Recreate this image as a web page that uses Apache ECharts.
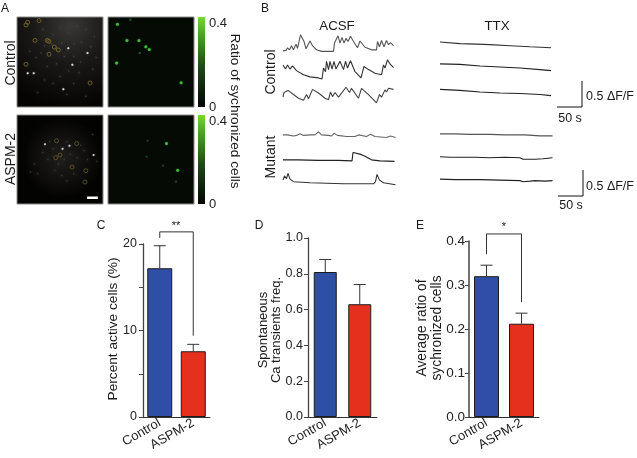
<!DOCTYPE html>
<html><head><meta charset="utf-8">
<style>html,body{margin:0;padding:0;background:#fff}#c{width:637px;height:458px}</style>
<script src="https://cdn.jsdelivr.net/npm/echarts@6/dist/echarts.min.js"></script>
</head><body><div id="c"></div>
<script>
// ---------- data ----------
const groups = ['Control', 'ASPM-2'];
const activeCells = [17.2, 7.6];
const activeCellsTop = [19.8, 8.4];
const transientFreq = [0.81, 0.63];
const transientFreqTop = [0.88, 0.74];
const syncRatio = [0.32, 0.212];
const syncRatioTop = [0.345, 0.236];

// [time s, dF/F]
const acsfControl1 = [[0,1.06],[6,1.07],[9,1.12],[13,1.08],[17,1.16],[21,1.08],[26,1.19],[29,1.11],[35,1.37],[42,1.24],[46,1.10],[54,1.25],[59,1.16],[67,1.08],[77,1.05],[101,1.05],[103,1.21],[110,1.35],[114,1.21],[118,1.32],[122,1.21],[126,1.30],[130,1.24],[135,1.34],[141,1.24],[149,1.12],[154,1.25],[164,1.13],[177,1.08],[187,1.08],[189,1.24],[193,1.14],[197,1.26],[202,1.14],[207,1.26],[211,1.18],[215,1.22],[221,1.16]];
const acsfControl2 = [[0,0.79],[5,0.71],[9,0.79],[14,0.71],[19,0.77],[27,0.68],[41,0.60],[54,0.56],[71,0.54],[78,0.52],[81,0.73],[85,0.66],[87,0.86],[91,0.70],[94,0.86],[98,0.71],[102,0.86],[106,0.71],[114,0.86],[121,0.70],[125,0.86],[129,0.73],[135,0.87],[144,0.66],[156,0.54],[162,0.76],[171,0.70],[184,0.63],[197,0.60],[201,0.79],[204,0.73],[209,0.89],[213,0.82],[221,0.74]];
const acsfControl3 = [[0,0.17],[2,0.26],[10,0.30],[21,0.22],[31,0.15],[41,0.11],[47,0.22],[51,0.14],[59,0.32],[71,0.25],[84,0.15],[91,0.12],[95,0.27],[99,0.18],[104,0.26],[111,0.17],[126,0.36],[133,0.26],[137,0.34],[151,0.15],[157,0.34],[171,0.22],[187,0.06],[193,0.22],[197,0.17],[204,0.31],[207,0.27],[211,0.34],[215,0.31],[221,0.32]];
const ttxControl1 = [[0,1.23],[40,1.20],[73,1.19],[100,1.18],[140,1.16],[180,1.14],[222,1.12]];
const ttxControl2 = [[0,0.81],[40,0.80],[80,0.77],[120,0.75],[160,0.73],[200,0.70],[222,0.68]];
const ttxControl3 = [[0,0.32],[40,0.30],[80,0.27],[120,0.25],[160,0.24],[200,0.22],[222,0.20]];
const acsfMutant1 = [[0,1.31],[4,1.34],[9,1.31],[14,1.30],[21,1.29],[27,1.30],[34,1.33],[41,1.30],[54,1.31],[64,1.31],[71,1.37],[77,1.31],[91,1.30],[97,1.29],[102,1.34],[109,1.30],[127,1.28],[144,1.28],[151,1.31],[155,1.28],[167,1.28],[175,1.32],[184,1.28],[207,1.26],[215,1.29],[225,1.26]];
const acsfMutant2 = [[0,0.83],[30,0.83],[70,0.82],[110,0.82],[138,0.81],[140,0.97],[154,0.94],[164,0.90],[177,0.83],[194,0.81],[223,0.80]];
const acsfMutant3 = [[0,0.44],[3,0.52],[7,0.47],[10,0.57],[14,0.46],[21,0.41],[54,0.39],[121,0.37],[181,0.37],[185,0.41],[188,0.55],[193,0.44],[201,0.39],[225,0.35]];
const ttxMutant1 = [[0,1.33],[30,1.33],[60,1.32],[100,1.32],[130,1.31],[170,1.31],[200,1.29],[225,1.29]];
const ttxMutant2 = [[0,0.89],[20,0.88],[40,0.88],[70,0.88],[100,0.87],[130,0.88],[160,0.87],[166,0.84],[190,0.84],[206,0.85],[225,0.87]];
const ttxMutant3 = [[0,0.46],[30,0.45],[80,0.45],[120,0.44],[160,0.43],[166,0.41],[180,0.42],[190,0.43],[210,0.42],[225,0.43]];
const scaleBar = [[0,0],[50,0],[50,0.5]];

// field-of-view marks, [x %, y %]
const controlRings = [[12.4,5.9],[10.5,8.9],[25.6,4],[21,26],[35.3,26],[37,27],[43.4,33.3],[48,36.6],[37.2,41.4],[10.5,52.5],[85,73.3]];
const controlBright = [[19.4,62.5],[53.9,80.3],[12.4,62.5],[64.4,53],[82,40],[59.7,34.8]];
const controlSpeckle = [[30,14],[42,20],[50,12],[60,18],[70,10],[80,14],[90,22],[66,30],[75,28],[86,33],[52,29],[40,30],[32,32],[28,40],[55,44],[66,44],[74,50],[46,52],[35,55],[22,45],[15,38],[60,60],[72,62],[88,58],[50,66],[32,70],[42,74],[66,74],[58,86],[80,88],[24,84],[92,45]];
const mutantRings = [[46,29],[69.4,32],[50,45],[45,48],[64,58.5],[80,62.6],[79,75.3]];
const mutantBright = [[53,38],[89,45],[61,34.5],[32.5,33]];
const mutantSpeckle = [[38,30],[42,38],[30,42],[58,30],[78,40],[74,34],[62,44],[55,50],[48,55],[70,48],[36,50],[20,55],[16,64],[24,66],[88,22],[93,52],[66,66],[52,68],[44,62],[58,74],[82,50]];
const scaleLine = [[81.5,93],[94,93]];
const controlGreen = [[11,8],[22,26],[36,26],[44,33],[48,36],[10,51],[85,73]];
const controlGreenDim = [[26,3],[37,40]];
const mutantGreen = [[68,32],[81,62]];
const mutantGreenDim = [[46,29],[64,57],[79,75],[45,47]];
const colorbarMax = [0.4];

// ---------- helpers ----------
const FONT = 'Liberation Sans';
const INK = '#222';
const grids = [], xAxes = [], yAxes = [], series = [];
function addGrid(g, x, y) {
  grids.push(Object.assign({containLabel:false}, g));
  const i = grids.length - 1;
  xAxes.push(Object.assign({gridIndex:i}, x));
  yAxes.push(Object.assign({gridIndex:i}, y));
  return i;
}
const hiddenVal = (min, max, extra) => Object.assign({type:'value', show:false, min, max, splitLine:{show:false}}, extra||{});

function imagePanel(top, left, h, bg, content) {
  const i = addGrid({left, top, width:86, height:h, show:true, backgroundColor:bg, borderColor:'#8a8a8a', borderWidth:1},
    hiddenVal(0,100), hiddenVal(0,100,{inverse:true}));
  content.forEach(c => {
    series.push(Object.assign({type:c.line?'line':'scatter', xAxisIndex:i, yAxisIndex:i, data:c.data, silent:true, animation:false,
      symbol: c.line?'none':'circle', symbolSize:c.size,
      itemStyle: c.ring ? {color:'transparent', borderColor:c.color, borderWidth:1} : {color:c.color, shadowBlur:c.blur||0, shadowColor:c.color},
      lineStyle: c.line ? {color:c.color, width:c.width} : undefined}));
  });
}
function colorbar(top, h) {
  const i = addGrid({left:198, top, width:7, height:h},
    {type:'category', show:false, data:['r'], boundaryGap:true},
    {type:'value', position:'right', min:0, max:0.4, interval:0.4, splitLine:{show:false}, axisLine:{show:false}, axisTick:{show:false},
     axisLabel:{fontFamily:FONT, fontSize:13, color:INK, margin:4, padding:[0,0,6,0], verticalAlignMaxLabel:'top', verticalAlignMinLabel:'middle',
       formatter:v=>v===0?'0':String(v)}});
  series.push({type:'bar', xAxisIndex:i, yAxisIndex:i, data:colorbarMax, barWidth:'100%', silent:true, animation:false,
    itemStyle:{color:new echarts.graphic.LinearGradient(0,0,0,1,[{offset:0,color:'#79d62f'},{offset:0.2,color:'#4fa028'},{offset:0.55,color:'#1f4a18'},{offset:1,color:'#030503'}])}});
}
function traceGroup(left, top, traces, colors) {
  const i = addGrid({left, top, width:113, height:78}, hiddenVal(0,226), hiddenVal(0,1.5));
  traces.forEach((t,k) => series.push({type:'line', xAxisIndex:i, yAxisIndex:i, data:t, showSymbol:false, animation:false, silent:true, clip:false,
    lineStyle:{color:colors[k], width:1.1}}));
}
function scale(left, top) {
  const i = addGrid({left, top, width:25, height:26}, hiddenVal(0,50), hiddenVal(0,0.5));
  series.push({type:'line', xAxisIndex:i, yAxisIndex:i, data:scaleBar, showSymbol:false, animation:false, silent:true, clip:false, lineStyle:{color:'#111', width:1}});
}
function barPanel(opt) {
  const i = addGrid({left:opt.left, top:opt.top, width:opt.width, height:opt.height},
    {type:'category', data:groups, axisTick:{show:false}, axisLine:{lineStyle:{color:'#333', width:1}},
     axisLabel:{fontFamily:FONT, fontSize:13, color:INK, rotate:30, margin:5, interval:0}},
    {type:'value', min:0, max:opt.max, interval:opt.interval, splitLine:{show:false},
     axisLine:{show:true, lineStyle:{color:'#444', width:opt.axisW||1.3}}, axisTick:{show:true, length:4, lineStyle:{color:'#444'}},
     axisLabel:{fontFamily:FONT, fontSize:opt.fs, color:INK, margin:opt.margin, formatter:opt.fmt}});
  series.push({type:'bar', xAxisIndex:i, yAxisIndex:i, barWidth:opt.barW, animation:false, silent:true,
    data:opt.values.map((v,k)=>({value:v, itemStyle:{color:k?'#e5301e':'#2f4fa6', borderColor:'#1c1c1c', borderWidth:1}}))});
  series.push({type:'custom', xAxisIndex:i, yAxisIndex:i, animation:false, silent:true, z:1,
    data:opt.values.map((v,k)=>[k,v,opt.tops[k]]),
    renderItem:(p,api)=>{
      const a=api.coord([api.value(0),api.value(1)]), b=api.coord([api.value(0),api.value(2)]);
      const st={stroke:'#333',lineWidth:1,fill:null};
      return {type:'group',children:[
        {type:'line',shape:{x1:a[0],y1:a[1],x2:b[0],y2:b[1]},style:st},
        {type:'line',shape:{x1:b[0]-6,y1:b[1],x2:b[0]+6,y2:b[1]},style:st}]};
    }});
  if (opt.bracket) {
    const br=opt.bracket;
    series.push({type:'custom', xAxisIndex:i, yAxisIndex:i, animation:false, silent:true, clip:false,
      data:[[0,br[0],br[1],br[2]]],
      renderItem:(p,api)=>{
        const A=api.coord([0,api.value(1)]), B=api.coord([0,api.value(2)]), C=api.coord([1,api.value(2)]), D=api.coord([1,api.value(3)]);
        return {type:'polyline',shape:{points:[A,B,C,D]},style:{stroke:'#333',lineWidth:1,fill:null}};
      }});
  }
}

// ---------- panel A ----------
const hazeA = {type:'radial',x:0.62,y:0.1,r:0.95,colorStops:[{offset:0,color:'#383735'},{offset:0.45,color:'#1b1917'},{offset:1,color:'#050403'}]};
const hazeB = {type:'radial',x:0.52,y:0.48,r:0.46,colorStops:[{offset:0,color:'#201e1c'},{offset:0.6,color:'#100f0e'},{offset:1,color:'#030302'}]};
imagePanel(17,17,90,hazeA,[
  {data:controlSpeckle,size:1.5,color:'#45423f',blur:2},
  {data:controlRings,size:4,color:'#7d722a',ring:true},
  {data:controlBright,size:2,color:'#e8e8e8',blur:1}]);
imagePanel(17,108,90,'#050a04',[
  {data:controlGreenDim,size:2.5,color:'#1f6a20'},
  {data:controlGreen,size:3,color:'#3fc43a',blur:1}]);
imagePanel(115,17,89,hazeB,[
  {data:mutantSpeckle,size:1.5,color:'#403d3a',blur:2},
  {data:mutantRings,size:4,color:'#645c24',ring:true},
  {data:mutantBright,size:2,color:'#d5d5d5',blur:1},
  {data:scaleLine,line:true,color:'#ffffff',width:2.5}]);
imagePanel(115,108,89,'#050a04',[
  {data:mutantGreenDim,size:2.5,color:'#1c4a1c'},
  {data:mutantGreen,size:3,color:'#3fc43a',blur:1}]);
colorbar(17,90);
colorbar(115,89);

// ---------- panel B ----------
traceGroup(283,28,[acsfControl1,acsfControl2,acsfControl3],['#555','#333','#444']);
traceGroup(440,28,[ttxControl1,ttxControl2,ttxControl3],['#333','#222','#222']);
traceGroup(283,125,[acsfMutant1,acsfMutant2,acsfMutant3],['#666','#222','#333']);
traceGroup(440,125,[ttxMutant1,ttxMutant2,ttxMutant3],['#555','#222','#222']);
scale(557,81);
scale(558,170);

// ---------- panels C, D, E ----------
barPanel({left:143,top:244,width:67,height:173,max:20,interval:5,fs:12.5,margin:6,barW:25,values:activeCells,tops:activeCellsTop,
  fmt:v=>v%10===0?String(v):'',bracket:[20.7,21.4,9.4]});
barPanel({left:308,top:238,width:69,height:179,max:1,interval:0.2,fs:12.5,margin:5,barW:23,values:transientFreq,tops:transientFreqTop,
  fmt:v=>v.toFixed(1)});
barPanel({left:469,top:241,width:70,height:176,max:0.4,interval:0.1,fs:13.5,margin:4,barW:25,axisW:1.5,values:syncRatio,tops:syncRatioTop,
  fmt:v=>v.toFixed(1),bracket:[0.37,0.416,0.261]});

// ---------- text ----------
const t = (text,x,y,size,rot) => ({type:'text',x,y,rotation:rot||0,silent:true,
  style:{text,fontFamily:FONT,fontSize:size,fill:'#1a1a1a',textAlign:'center',textVerticalAlign:'middle'}});
const up = Math.PI/2, down = -Math.PI/2;
const labels = [
  t('A',5,9,12), t('B',265,9,12), t('C',101,226,12), t('D',259,226,12), t('E',420,226,12),
  t('Control',11,63,14,up), t('ASPM-2',11,159,14,up),
  t('Ratio of sychronized cells',235,111,13.7,down),
  t('ACSF',337,26,13.3), t('TTX',497,26,13.3),
  t('Control',271,72,14,up), t('Mutant',271,157,14,up),
  t('0.5 ΔF/F',610,97,12.5), t('50 s',570,119,12.5),
  t('0.5 ΔF/F',610,187,12.5), t('50 s',571,206,12.5),
  t('Percent active cells (%)',113,329,13.7,up),
  t('Spontaneous',263,330,13,up), t('Ca transients freq.',276,330,13,up),
  t('Average ratio of',422,328,13.8,up), t('sychronized cells',437,328,13.8,up),
  t('**',176,226,11), t('*',504,227,11)
];

const chart = echarts.init(document.getElementById('c'), null, {renderer:'canvas'});
chart.setOption({animation:false, backgroundColor:'#fff', grid:grids, xAxis:xAxes, yAxis:yAxes, series, graphic:{elements:labels}});
</script></body></html>
